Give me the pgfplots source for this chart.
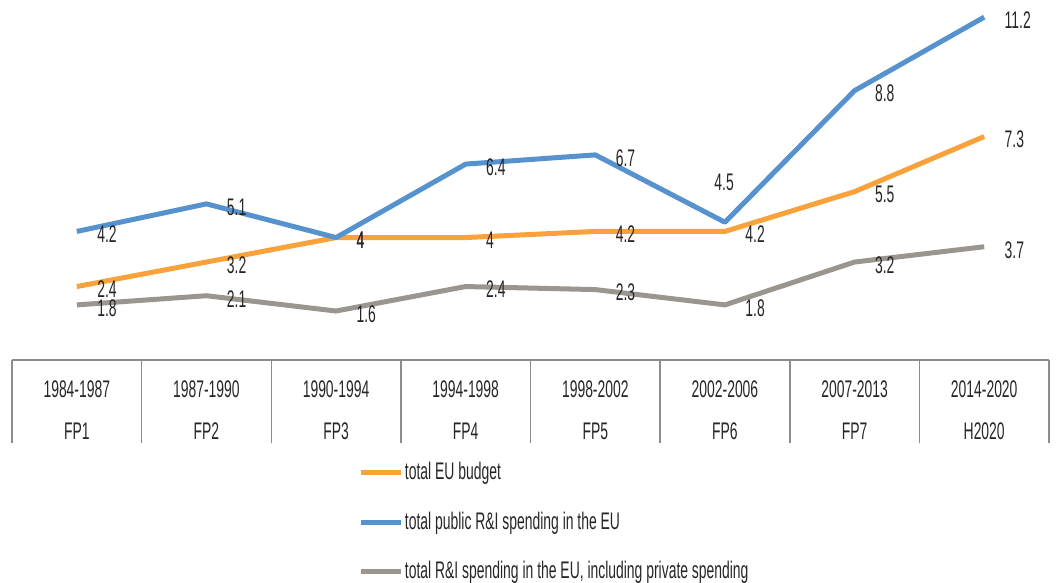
\documentclass[border=0pt]{standalone}
\usepackage{fontspec}
\setmainfont{Liberation Sans}[FakeStretch=0.58]
\usepackage{pgfplots}
\pgfplotsset{compat=1.18}
\definecolor{cOr}{HTML}{F9A23B}
\definecolor{cBl}{HTML}{5692CE}
\definecolor{cGr}{HTML}{9B9590}
\definecolor{cGrid}{HTML}{8C8C8C}
\newcommand{\uplab}[1]{\raisebox{17.5pt}[0pt][0pt]{\hspace*{-15.5pt}#1}}
\begin{document}
\fontsize{12}{14}\selectfont
\begin{tikzpicture}
\begin{axis}[
  scale only axis, width=518.5pt, height=180pt,
  xmin=-0.5, xmax=7.5, ymin=0, ymax=11.76,
  axis y line=none, axis x line*=bottom,
  x axis line style={draw=cGrid, line width=0.75pt, -},
  xtick={0,...,7}, major tick length=0pt,
  xticklabels={{1984-1987\\[7pt]FP1},{1987-1990\\[7pt]FP2},{1990-1994\\[7pt]FP3},{1994-1998\\[7pt]FP4},{1998-2002\\[7pt]FP5},{2002-2006\\[7pt]FP6},{2007-2013\\[7pt]FP7},{2014-2020\\[7pt]H2020}},
  xticklabel style={align=center, font=\fontsize{12}{14}\selectfont, yshift=-6pt, text=black!85},
  clip=false,
  every axis plot/.append style={line width=2.5pt, line join=round},
  nodes near coords, point meta=explicit symbolic,
  nodes near coords style={anchor=west, xshift=5pt, yshift=-1.5pt, font=\fontsize{12}{14}\selectfont, text=black!85},
  legend cell align=left,
  legend style={draw=none, fill=none, at={(0.334,-0.28)}, anchor=north west,
    inner sep=0pt, row sep=13pt, nodes={inner sep=0.6pt, text=black!85}, font=\fontsize{12}{14}\selectfont,
    /tikz/every even column/.append style={column sep=0pt}},
  legend image code/.code={\draw[#1] (0pt,0pt) -- (20pt,0pt);},
]
\addplot[color=cOr] coordinates {(0,2.4)[2.4] (1,3.2)[3.2] (2,4)[4] (3,4)[4] (4,4.2)[4.2] (5,4.2)[4.2] (6,5.5)[5.5] (7,7.3)[7.3]};
\addlegendentry{total EU budget}
\addplot[color=cBl] coordinates {(0,4.2)[4.2] (1,5.1)[5.1] (2,4)[4] (3,6.4)[6.4] (4,6.7)[6.7] (5,4.5)[\uplab{4.5}] (6,8.8)[8.8] (7,11.2)[11.2]};
\addlegendentry{total public R\&I spending in the EU}
\addplot[color=cGr] coordinates {(0,1.8)[1.8] (1,2.1)[2.1] (2,1.6)[1.6] (3,2.4)[2.4] (4,2.3)[2.3] (5,1.8)[1.8] (6,3.2)[3.2] (7,3.7)[3.7]};
\addlegendentry{total R\&I spending in the EU, including private spending}
\pgfplotsinvokeforeach{-0.5,0.5,...,7.5}{
  \draw[cGrid, line width=0.75pt] (axis cs:#1,0) -- ([yshift=-41.5pt]axis cs:#1,0);
}
\coordinate (bl) at (rel axis cs:-0.01157,-0.6194);
\coordinate (tr) at (rel axis cs:1.00771,1);
\end{axis}
\pgfresetboundingbox
\path[use as bounding box] (bl) rectangle (tr);
\end{tikzpicture}
\end{document}
